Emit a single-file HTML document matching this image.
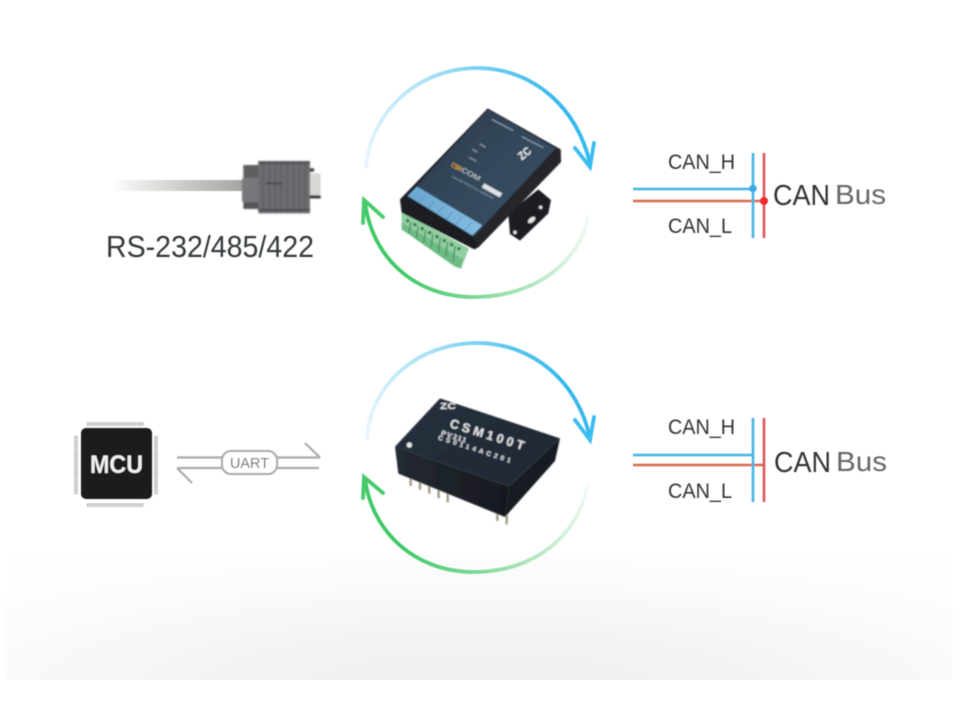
<!DOCTYPE html>
<html><head><meta charset="utf-8">
<style>html,body{margin:0;padding:0;background:#fff;width:960px;height:708px;overflow:hidden}svg{display:block}text{font-family:"Liberation Sans",sans-serif}</style>
</head><body>
<svg width="960" height="708" viewBox="0 0 960 708" xmlns="http://www.w3.org/2000/svg">
<defs>
<filter id="b1" x="-10%" y="-10%" width="120%" height="120%"><feGaussianBlur stdDeviation="0.5"/></filter>
<filter id="b2" x="-10%" y="-10%" width="120%" height="120%"><feGaussianBlur stdDeviation="2.200"/></filter>
<filter id="bgb" x="-10%" y="-10%" width="120%" height="120%"><feGaussianBlur stdDeviation="1.5"/></filter>
<radialGradient id="bg" gradientUnits="userSpaceOnUse" cx="0" cy="0" r="1" gradientTransform="translate(480 690) scale(660 140)">
<stop offset="0" stop-color="#efefef"/><stop offset=".4" stop-color="#f3f3f3"/><stop offset=".75" stop-color="#fafafa"/><stop offset="1" stop-color="#fefefe"/></radialGradient>
<linearGradient id="blueA" gradientUnits="userSpaceOnUse" x1="366" y1="170" x2="560" y2="100"><stop offset="0" stop-color="#e8f6fc"/><stop offset=".45" stop-color="#a5e0f5"/><stop offset="1" stop-color="#35b8ec"/></linearGradient>
<linearGradient id="greenA" gradientUnits="userSpaceOnUse" x1="588" y1="215" x2="400" y2="270"><stop offset="0" stop-color="#f2faf3"/><stop offset=".45" stop-color="#a5e2b5"/><stop offset="1" stop-color="#3fc866"/></linearGradient>
<linearGradient id="blueB" gradientUnits="userSpaceOnUse" x1="367" y1="440" x2="560" y2="370"><stop offset="0" stop-color="#e8f6fc"/><stop offset=".45" stop-color="#a5e0f5"/><stop offset="1" stop-color="#35b8ec"/></linearGradient>
<linearGradient id="greenB" gradientUnits="userSpaceOnUse" x1="588" y1="488" x2="400" y2="545"><stop offset="0" stop-color="#f2faf3"/><stop offset=".45" stop-color="#a5e2b5"/><stop offset="1" stop-color="#3fc866"/></linearGradient>
<linearGradient id="cable" x1="0" x2="1" y1="0" y2="0"><stop offset="0" stop-color="#fff"/><stop offset=".5" stop-color="#cfcfcb"/><stop offset="1" stop-color="#a2a29e"/></linearGradient>
<linearGradient id="chipFront" x1="0" x2="1" y1="0" y2="0"><stop offset="0" stop-color="#252a33"/><stop offset="1" stop-color="#15181e"/></linearGradient>
<linearGradient id="chipTop" x1="0" x2="1" y1="0" y2="1"><stop offset="0" stop-color="#252e3b"/><stop offset="1" stop-color="#222a35"/></linearGradient>
<linearGradient id="devTop" x1="0" x2="1" y1="0" y2="1"><stop offset="0" stop-color="#2b3b4d"/><stop offset="1" stop-color="#3b5369"/></linearGradient>
<linearGradient id="strip" x1="0" x2="1" y1="0" y2="0"><stop offset="0" stop-color="#6aa6cf"/><stop offset="1" stop-color="#85bde3"/></linearGradient>
</defs>
<rect width="960" height="708" fill="#fff"/>
<g filter="url(#bgb)"><rect x="6" y="552" width="946" height="135" fill="url(#bg)"/></g>
<rect x="0" y="680" width="960" height="28" fill="#fff"/>

<!-- rings -->
<g fill="none" stroke-linecap="round" filter="url(#b1)">
<path d="M366 167 C371 110 420 68 477 68 C533 68 578 108 590 164" stroke="url(#blueA)" stroke-width="3.8"/>
<path d="M575 148 L590 167 L594 143" stroke="#3abcef" stroke-width="3.8"/>
<path d="M588 217 C580 262 535 297 474 297 C415 297 372 258 365 202" stroke="url(#greenA)" stroke-width="3.8"/>
<path d="M363 223 L364 200 L383 217" stroke="#46ca6c" stroke-width="3.8"/>
<path d="M367 438 C371 382 420 343 477 343 C533 343 578 382 590 438" stroke="url(#blueB)" stroke-width="3.8"/>
<path d="M575 420 L590 440 L594 417" stroke="#3abcef" stroke-width="3.8"/>
<path d="M587 487 C578 535 535 572 474 572 C415 572 372 532 365 479" stroke="url(#greenB)" stroke-width="3.8"/>
<path d="M363 498 L364 477 L383 493" stroke="#46ca6c" stroke-width="3.8"/>
</g>

<!-- top device -->
<g transform="translate(395 100) scale(.3333)" filter="url(#b2)">
<!-- bracket -->
<path d="M430 268 L468 300 L460 340 L375 422 L345 402 L340 340 Z" fill="#1b1c20"/>
<ellipse cx="410" cy="360" rx="13" ry="7" transform="rotate(-38 410 360)" fill="#e8e8e8"/>
<circle cx="437" cy="322" r="5" fill="#e8e8e8"/><circle cx="360" cy="397" r="5" fill="#e8e8e8"/>
<!-- terminal -->
<path d="M20 335 L222 445 L198 506 L180 500 L20 388 Z" fill="#8fcfa0"/>
<path d="M20 368 L205 478 L198 506 L180 500 L20 388 Z" fill="#6dbb85"/>
<g fill="#3c6a4a"><circle cx="38" cy="362" r="5"/><circle cx="60" cy="374" r="5"/><circle cx="82" cy="386" r="5"/><circle cx="104" cy="398" r="5"/><circle cx="126" cy="410" r="5"/><circle cx="148" cy="422" r="5"/><circle cx="170" cy="434" r="5"/><circle cx="192" cy="446" r="5"/></g>
<g stroke="#4f8a60" stroke-width="4" fill="none"><path d="M48 366 L42 400"/><path d="M70 378 L64 414"/><path d="M92 390 L86 428"/><path d="M114 402 L108 442"/><path d="M136 414 L130 456"/><path d="M158 426 L152 470"/><path d="M180 438 L174 484"/></g>
<!-- body -->
<path d="M15 298 L278 25 L497 148 L498 186 L250 442 L238 448 L20 338 Z" fill="#1c1d21"/>
<path d="M480 143 L497 148 L498 186 L250 442 L235 410 Z" fill="#26272b"/>
<path d="M278 28 L482 145 L235 410 L38 286 Z" fill="url(#devTop)"/>
<path d="M66 260 L262 376 L232 406 L38 288 Z" fill="url(#strip)"/>
<g stroke="#5e97c2" stroke-width="3"><path d="M90 285 L70 308"/><path d="M118 302 L98 326"/><path d="M146 318 L126 342"/><path d="M174 334 L154 358"/><path d="M202 350 L182 374"/><path d="M230 366 L210 390"/></g>
<text transform="translate(167 199) rotate(28)" font-size="21" font-weight="bold" fill="#e5a73a" textLength="32" lengthAdjust="spacingAndGlyphs">CSM</text>
<text transform="translate(197 214) rotate(28)" font-size="21" fill="#d6dce2" textLength="62" lengthAdjust="spacingAndGlyphs">COM</text>
<path d="M268 250 L322 280 L314 292 L260 262 Z" fill="#dfe3e7"/>
<text transform="translate(170 232) rotate(28)" font-size="9" fill="#a9b6c2" textLength="140" lengthAdjust="spacingAndGlyphs">CAN-UART PROTOCOL CONVERTER</text>
<text transform="rotate(-40 390 165) translate(372 172)" font-size="34" font-weight="bold" fill="#eceff2" textLength="40" lengthAdjust="spacingAndGlyphs">ZC</text>
<path d="M290 58 L355 92 M380 110 L445 143" stroke="#8795a4" stroke-width="4"/>
<path d="M255 132 L272 142 M232 148 L248 157 M222 172 L245 184" stroke="#8795a4" stroke-width="4"/>
</g>

<!-- bottom chip -->
<g transform="translate(385 385) scale(.3333)" filter="url(#b2)">
<g stroke="#9f967e" stroke-width="7"><path d="M77 265 V303"/><path d="M105 275 V314"/><path d="M133 290 V326"/><path d="M161 300 V340"/><path d="M188 312 V352"/><path d="M337 370 V408"/><path d="M365 380 V418"/></g>
<path d="M30 185 L40 266 L360 396 L372 305 Z" fill="url(#chipFront)"/>
<path d="M372 305 L360 396 L510 228 L525 160 Z" fill="#191c22"/>
<path d="M165 40 L525 160 L372 305 L30 185 Z" fill="url(#chipTop)"/>
<circle cx="73" cy="180" r="8" fill="#e8e8e8"/>
<text transform="translate(165 72)" font-size="26" font-weight="bold" fill="#eceff2" textLength="48" lengthAdjust="spacingAndGlyphs">ZC</text>
<g fill="#e8eaec" font-weight="bold">
<text transform="translate(192 126) rotate(17.500)" font-size="38" textLength="232" lengthAdjust="spacing">CSM100T</text>
<text transform="translate(167 150) rotate(17.500)" font-size="22" textLength="78" lengthAdjust="spacing">PV311</text>
<text transform="translate(158 163) rotate(18)" font-size="20" textLength="228" lengthAdjust="spacing">CS0114AC201</text>
</g>
</g>

<!-- connector and cable -->
<g filter="url(#b1)">
<rect x="110" y="180" width="136" height="11" fill="url(#cable)"/>
<g transform="translate(230 150) scale(.3333)" filter="url(#b2)">
<rect x="40" y="45" width="46" height="40" fill="#5d5e61"/>
<rect x="40" y="155" width="46" height="22" fill="#55565a"/>
<rect x="36" y="85" width="50" height="70" fill="#77787b"/>
<rect x="85" y="33" width="155" height="157" fill="#6c6d70"/>
<g stroke="#56575a" stroke-width="3"><path d="M100 36V188M118 36V188M136 36V188M154 36V188M172 36V188M190 36V188M208 36V188M226 36V188"/></g>
<path d="M85 38H240M85 180H240" stroke="#4e4f52" stroke-width="7"/>
<path d="M108 100H158" stroke="#3e3f42" stroke-width="5"/>
<rect x="240" y="70" width="32" height="66" fill="#d8d8d4"/>
<rect x="240" y="55" width="12" height="10" fill="#333"/><rect x="240" y="136" width="32" height="9" fill="#222"/>
</g>
</g>
<g filter="url(#b1)"><text x="106" y="257" font-size="31" fill="#33373b" textLength="208" lengthAdjust="spacingAndGlyphs">RS-232/485/422</text></g>

<!-- MCU -->
<g filter="url(#b1)">
<g stroke="#b8b8b8" stroke-width="4" fill="none" stroke-dasharray="1.4 .7">
<path d="M87 424 H144"/><path d="M87 505 H144"/><path d="M76 436 V494"/><path d="M156 436 V494"/>
</g>
<rect x="81" y="428" width="71" height="71" rx="5" fill="#1a1a1a"/>
<text x="116.500" y="473" font-size="25" font-weight="bold" fill="#f2f2f2" text-anchor="middle" textLength="53" lengthAdjust="spacingAndGlyphs">MCU</text>
<g fill="none" stroke="#aaaaaa" stroke-width="2.200">
<path d="M177 457.500 H222 M177 468 H222"/>
<path d="M177 468 L192 483"/>
<path d="M277 457.500 H320 M277 468 H319"/>
<path d="M305 443 L320 457.500"/>
</g>
<rect x="222" y="451" width="55" height="23" rx="9" fill="#fff" stroke="#a8a8a8" stroke-width="2"/>
<text x="249.500" y="468" font-size="15" fill="#666" text-anchor="middle" textLength="39" lengthAdjust="spacingAndGlyphs">UART</text>
</g>

<!-- CAN top -->
<g filter="url(#b1)">
<path d="M633 189 H753" stroke="#45b3e4" stroke-width="2.600"/>
<path d="M633 201 H764" stroke="#d9694e" stroke-width="2.600"/>
<path d="M753 153 V238" stroke="#45b3e4" stroke-width="2.600"/>
<path d="M764 153 V238" stroke="#d8555b" stroke-width="2.600"/>
<circle cx="753" cy="188.500" r="3.800" fill="#3ba9e6"/>
<circle cx="764" cy="201" r="4" fill="#ee2c33"/>
<text x="668" y="169" font-size="21" fill="#333" textLength="67" lengthAdjust="spacingAndGlyphs">CAN_H</text>
<text x="668" y="233" font-size="21" fill="#333" textLength="64" lengthAdjust="spacingAndGlyphs">CAN_L</text>
<text x="773" y="205" font-size="29" fill="#333" textLength="57" lengthAdjust="spacingAndGlyphs">CAN</text>
<text x="835" y="204" font-size="28" fill="#666" textLength="51" lengthAdjust="spacingAndGlyphs">Bus</text>
</g>
<!-- CAN bottom -->
<g filter="url(#b1)">
<path d="M633 455 H753" stroke="#45b3e4" stroke-width="2.600"/>
<path d="M633 465 H764" stroke="#d9694e" stroke-width="2.600"/>
<path d="M753 418 V502" stroke="#45b3e4" stroke-width="2.600"/>
<path d="M764 418 V502" stroke="#d8555b" stroke-width="2.600"/>
<text x="668" y="434" font-size="21" fill="#333" textLength="67" lengthAdjust="spacingAndGlyphs">CAN_H</text>
<text x="668" y="498" font-size="21" fill="#333" textLength="64" lengthAdjust="spacingAndGlyphs">CAN_L</text>
<text x="774" y="472" font-size="29" fill="#333" textLength="57" lengthAdjust="spacingAndGlyphs">CAN</text>
<text x="836" y="471" font-size="28" fill="#666" textLength="51" lengthAdjust="spacingAndGlyphs">Bus</text>
</g>
</svg>
</body></html>
